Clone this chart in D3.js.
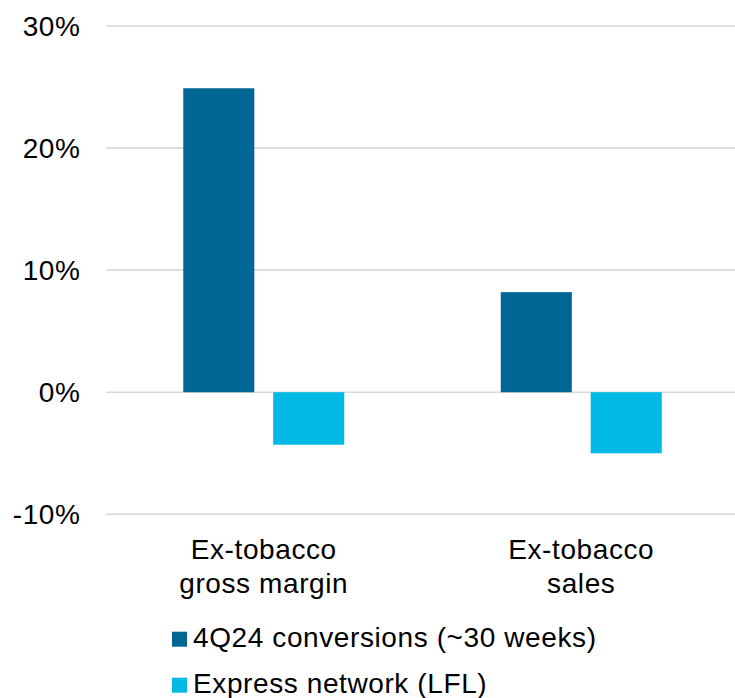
<!DOCTYPE html>
<html>
<head>
<meta charset="utf-8">
<script src="https://cdn.jsdelivr.net/npm/d3@7"></script>
<style>
  html, body { margin: 0; padding: 0; background: #fff; }
  svg { display: block; }
  text { font-family: "Liberation Sans", Arial, sans-serif; fill: #000; letter-spacing: 0.6px; }
</style>
</head>
<body>
<svg id="chart" width="735" height="698"></svg>
<script>
// Data
const categories = [["Ex-tobacco", "gross margin"], ["Ex-tobacco", "sales"]];
const categoryKeys = ["gm", "sales"];
const seriesNames = ["4Q24 conversions (~30 weeks)", "Express network (LFL)"];
const conversions = [24.9, 8.2];
const expressNetwork = [-4.3, -5.0];
const yTicks = [-10, 0, 10, 20, 30];
const seriesColors = ["#006794", "#00B9E4"];

const seriesValues = [conversions, expressNetwork];

const svg = d3.select("#chart");
const W = 735;

const y = d3.scaleLinear().domain([-10, 30]).range([514.3, 26]);
const x0 = d3.scaleBand().domain(categoryKeys).range([105, 740]).padding(0);
const x1 = d3.scaleBand().domain(d3.range(seriesNames.length))
  .range([0, x0.bandwidth()]).paddingInner(0.21).paddingOuter(0.87);

// Gridlines
svg.append("g").selectAll("line").data(yTicks).join("line")
  .attr("x1", 106).attr("x2", W)
  .attr("y1", d => y(d)).attr("y2", d => y(d))
  .attr("stroke", "#d9d9d9").attr("stroke-width", 1.6);

// Y tick labels
svg.append("g").selectAll("text").data(yTicks).join("text")
  .attr("x", 80.5).attr("y", d => y(d)).attr("dy", "0.36em")
  .attr("text-anchor", "end").attr("font-size", 28)
  .text(d => d + "%");

// Bars
const groups = svg.append("g").selectAll("g").data(categoryKeys).join("g")
  .attr("transform", d => `translate(${x0(d)},0)`);

groups.selectAll("rect")
  .data((d, ci) => seriesValues.map((vals, si) => ({ si, v: vals[ci] })))
  .join("rect")
  .attr("x", d => x1(d.si))
  .attr("width", x1.bandwidth())
  .attr("y", d => y(Math.max(0, d.v)))
  .attr("height", d => Math.abs(y(d.v) - y(0)))
  .attr("fill", d => seriesColors[d.si]);

// Category labels
const catLabels = svg.append("g").selectAll("text").data(categoryKeys).join("text")
  .attr("text-anchor", "middle").attr("font-size", 28)
  .attr("x", d => x0(d) + x0.bandwidth() / 2)
  .attr("y", 559);
catLabels.selectAll("tspan")
  .data((d, i) => categories[i])
  .join("tspan")
  .attr("x", function () { return d3.select(this.parentNode).attr("x"); })
  .attr("dy", (d, i) => i === 0 ? 0 : 33.6)
  .text(d => d);

// Legend
const legend = svg.append("g").selectAll("g").data(seriesNames).join("g")
  .attr("transform", (d, i) => `translate(172,${631.7 + i * 46})`);
legend.append("rect")
  .attr("width", 15).attr("height", 15)
  .attr("fill", (d, i) => seriesColors[i]);
legend.append("text")
  .attr("x", 21).attr("y", 15.3)
  .attr("font-size", 28)
  .text(d => d);
</script>
</body>
</html>
